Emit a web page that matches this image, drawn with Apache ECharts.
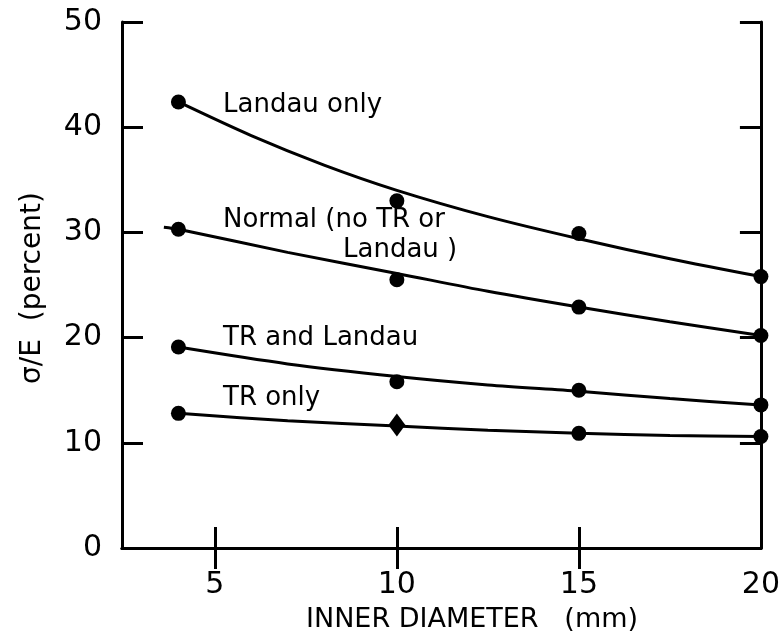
<!DOCTYPE html>
<html>
<head>
<meta charset="utf-8">
<script src="https://cdn.jsdelivr.net/npm/echarts@6/dist/echarts.min.js"></script>
<style>
html,body{margin:0;padding:0;background:#fff;}
#chart{width:783px;height:640px;}
</style>
</head>
<body>
<div id="chart"></div>
<script>
// ---- data ----
const diameters = [4, 10, 15, 20];
const xTickValues = [5, 10, 15, 20];

// measured points
const landauOnlyPts = [42.4, 33.0, 29.9, 25.8];
const normalPts     = [30.3, 25.5, 22.9, 20.2];
const trLandauPts   = [19.1, 15.8, 15.0, 13.6];
const trOnlyPts     = [12.8, 11.7, 10.9, 10.6];
const trOnlySymbols = ['circle', 'diamond', 'circle', 'circle'];

// fitted curves
const landauCurveX = [4, 6, 8, 10, 12.5, 15, 17.5, 20];
const landauCurve  = [42.4, 39.2, 36.4, 34.0, 31.5, 29.4, 27.5, 25.8];
const normalCurveX = [3.6, 4, 7, 10, 12.5, 15, 17.5, 20];
const normalCurve  = [30.5, 30.3, 28.1, 26.1, 24.4, 22.9, 21.5, 20.2];
const trLandauCurveX = [4, 7, 10, 12.5, 15, 17.5, 20];
const trLandauCurve  = [19.1, 17.5, 16.3, 15.5, 14.9, 14.2, 13.6];
const trOnlyCurveX = [4, 7, 10, 12.5, 15, 17.5, 20];
const trOnlyCurve  = [12.8, 12.1, 11.6, 11.2, 10.9, 10.7, 10.6];

const FONT = 'DejaVu Sans';
const BLACK = '#000';

function zip(xs, ys) { return xs.map((x, i) => [x, ys[i]]); }

function curve(xs, ys) {
  return {
    type: 'line', data: zip(xs, ys), smooth: 0.3,
    symbol: 'none', silent: true,
    lineStyle: { color: BLACK, width: 3 }, z: 2
  };
}
function points(ys, symbols) {
  return {
    type: 'scatter', symbolSize: 15, itemStyle: { color: BLACK, opacity: 1 }, z: 3,
    data: diameters.map((x, i) => {
      const d = { value: [x, ys[i]] };
      if (symbols && symbols[i] === 'diamond') { d.symbol = 'diamond'; d.symbolSize = [17, 23]; }
      return d;
    })
  };
}

const axisLine = { show: true, lineStyle: { color: BLACK, width: 3 } };
const tickStyle = { color: BLACK, width: 3 };

const chart = echarts.init(document.getElementById('chart'), null, { renderer: 'canvas' });
chart.setOption({
  animation: false,
  backgroundColor: '#fff',
  grid: { left: 122, right: 22, top: 22, bottom: 92, containLabel: false },
  xAxis: [
    {
      type: 'value', position: 'bottom', min: 2.45, max: 20,
      axisLine: axisLine,
      axisTick: { show: true, inside: true, length: 21, lineStyle: tickStyle, customValues: xTickValues },
      axisLabel: { customValues: xTickValues, color: BLACK, fontSize: 30, fontFamily: FONT, margin: 22 },
      splitLine: { show: false }
    },
    {
      type: 'value', position: 'top', min: 2.45, max: 20,
      axisLine: axisLine,
      axisTick: { show: true, inside: true, length: 21, lineStyle: tickStyle, customValues: [5, 10, 15] },
      axisLabel: { show: false },
      splitLine: { show: false }
    }
  ],
  yAxis: [
    {
      type: 'value', position: 'left', min: 0, max: 50, interval: 10,
      axisLine: axisLine,
      axisTick: { show: true, inside: true, length: 21, lineStyle: tickStyle },
      axisLabel: { color: BLACK, fontSize: 30, fontFamily: FONT, margin: 20 },
      splitLine: { show: false }
    },
    {
      type: 'value', position: 'right', min: 0, max: 50, interval: 10,
      axisLine: axisLine,
      axisTick: { show: true, inside: true, length: 21, lineStyle: tickStyle },
      axisLabel: { show: false },
      splitLine: { show: false }
    }
  ],
  series: [
    curve(landauCurveX, landauCurve),
    curve(normalCurveX, normalCurve),
    curve(trLandauCurveX, trLandauCurve),
    curve(trOnlyCurveX, trOnlyCurve),
    points(landauOnlyPts),
    points(normalPts),
    points(trLandauPts),
    points(trOnlyPts, trOnlySymbols)
  ],
  graphic: [
    { type: 'text', left: 223, top: 92, style: { text: 'Landau only', font: '26px "DejaVu Sans"', fill: BLACK } },
    { type: 'text', left: 223, top: 207, style: { text: 'Normal (no TR or', font: '26px "DejaVu Sans"', fill: BLACK } },
    { type: 'text', left: 343, top: 237, style: { text: 'Landau )', font: '26px "DejaVu Sans"', fill: BLACK } },
    { type: 'text', left: 223, top: 325, style: { text: 'TR and Landau', font: '26px "DejaVu Sans"', fill: BLACK } },
    { type: 'text', left: 223, top: 385, style: { text: 'TR only', font: '26px "DejaVu Sans"', fill: BLACK } },
    { type: 'text', x: 472, y: 620, style: { text: 'INNER DIAMETER   (mm)', font: '27px "DejaVu Sans"', fill: BLACK, textAlign: 'center', textVerticalAlign: 'middle' } },
    { type: 'text', x: 33, y: 288, rotation: Math.PI / 2, style: { text: 'σ/E  (percent)', font: '28px "DejaVu Sans"', fill: BLACK, textAlign: 'center', textVerticalAlign: 'middle' } }
  ]
});
</script>
</body>
</html>
